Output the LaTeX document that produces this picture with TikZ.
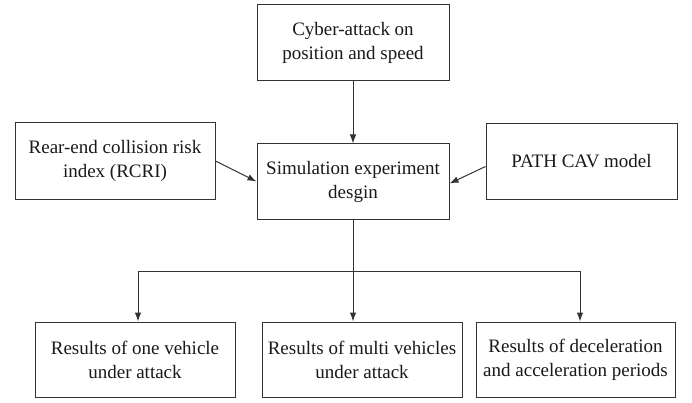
\documentclass[tikz,border=0pt]{standalone}
\usepackage{fontspec}
\setmainfont{Liberation Serif}
\usetikzlibrary{arrows.meta}
\tikzset{
  boxnode/.style={draw=black!80, line width=1pt, align=center, inner sep=0pt,
    font=\fontsize{19pt}{24pt}\selectfont, text=black!90},
  conn/.style={draw=black!80, line width=1pt},
  arr/.style={conn, -{Latex[length=9pt,width=6.5pt]}}
}
\begin{document}
\begin{tikzpicture}[x=1pt,y=1pt]
\useasboundingbox (0,0) rectangle (692,402);
\node[boxnode, minimum width=192pt, minimum height=76pt] (top) at (353,359) {Cyber-attack on\\position and speed};
\node[boxnode, minimum width=192pt, minimum height=75pt] (sim) at (353,220.5) {Simulation experiment\\desgin};
\node[boxnode, minimum width=200pt, minimum height=76pt] (rcri) at (115,241) {Rear-end collision risk\\index (RCRI)};
\node[boxnode, minimum width=191pt, minimum height=75pt] (path) at (581.5,240.5) {PATH CAV model};
\node[boxnode, minimum width=200pt, minimum height=75pt] (r1) at (135,42.5) {Results of one vehicle\\under attack};
\node[boxnode, minimum width=200pt, minimum height=75pt] (r2) at (362,42.5) {Results of multi vehicles\\under attack};
\node[boxnode, minimum width=199pt, minimum height=75pt] (r3) at (575.5,42.5) {Results of deceleration\\and acceleration periods};
\coordinate (hub) at (353,131);
\draw[arr] (top) -- (sim);
\draw[arr] (rcri.east) -- (sim.west);
\draw[arr] ([yshift=-5pt]path.west) -- ([yshift=-2pt]sim.east);
\draw[conn] (sim.south) -- (hub);
\draw[arr] (hub) -- (hub |- r2.north);
\draw[arr] (hub) -| ([xshift=3pt]r1.north);
\draw[arr] (hub) -| ([xshift=4.5pt]r3.north);
\end{tikzpicture}
\end{document}
